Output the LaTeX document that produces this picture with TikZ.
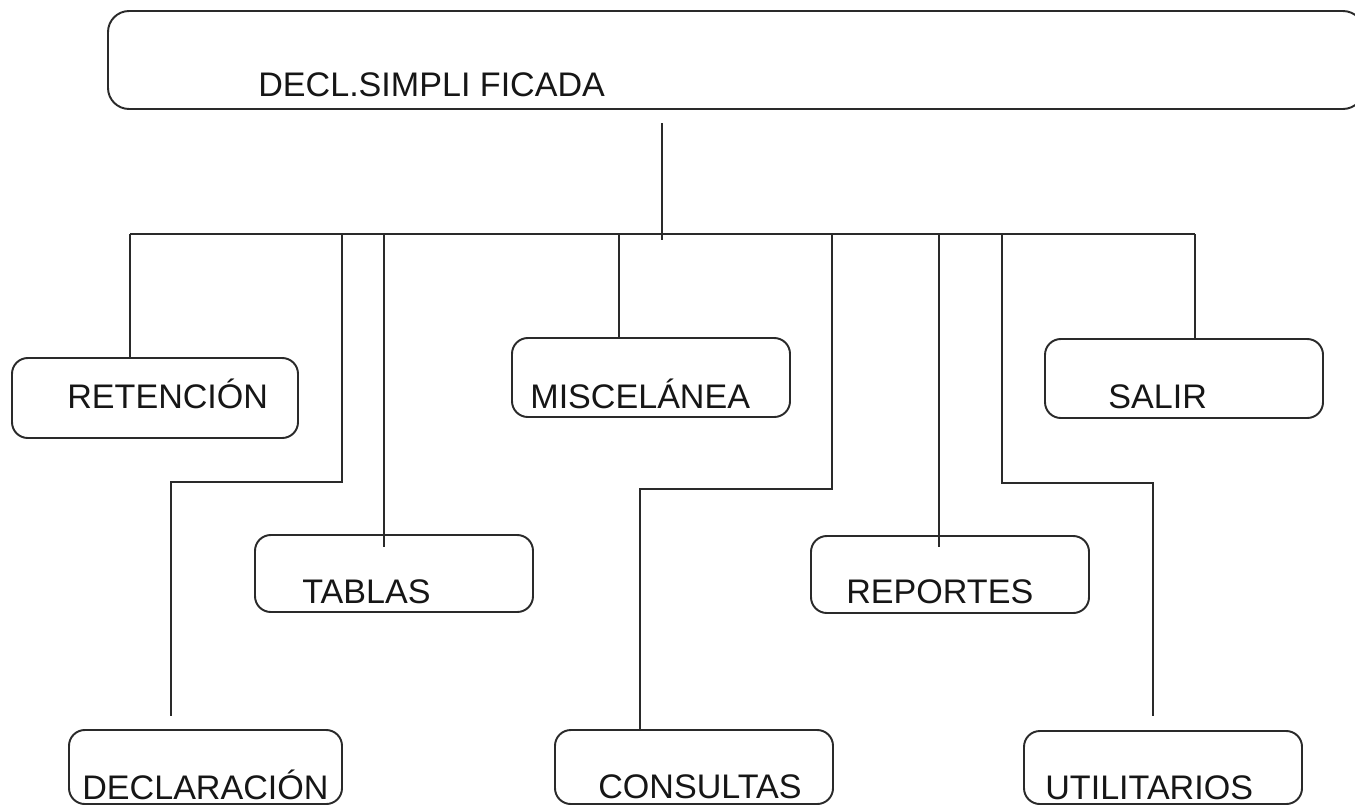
\documentclass[tikz,border=0pt]{standalone}
\usepackage{fontspec}
\setmainfont{Liberation Sans}
\usepackage{tikz}
\usetikzlibrary{positioning,fit,calc}
\definecolor{MenuInk}{HTML}{161616}
\definecolor{MenuLine}{HTML}{2A2A2A}
\tikzset{
  menulabel/.style={font=\fontsize{19.4}{23}\selectfont, text=MenuInk, inner sep=0pt, anchor=base west},
  menubox/.style={draw=MenuLine, line width=1.1pt, rounded corners=9pt, inner sep=0pt, fill=white},
  rootbox/.style={menubox, rounded corners=12pt},
  menulink/.style={draw=MenuLine, line width=1.1pt}
}
\begin{document}
\begin{tikzpicture}[x=0.02cm, y=-0.02cm]
\useasboundingbox (0,0) rectangle (1355,805);
% root
\node[rootbox, fit={(108,11) (1364,109)}] (root) {};
\node[menulabel] (root-t) at (258,96) {DECL.SIMPLI FICADA};
% first row
\node[menubox, fit={(12,358) (298,438)}] (ret) {};
\node[menulabel] (ret-t) at (67,408) {RETENCIÓN};
\node[menubox, fit={(512,338) (790,417)}] (mis) {};
\node[menulabel] (mis-t) at (530,408) {MISCELÁNEA};
\node[menubox, fit={(1045,339) (1323,418)}] (sal) {};
\node[menulabel] (sal-t) at (1108,408) {SALIR};
% second row
\node[menubox, fit={(255,535) (533,612)}] (tab) {};
\node[menulabel] (tab-t) at (302,603) {TABLAS};
\node[menubox, fit={(811,536) (1089,613)}] (rep) {};
\node[menulabel] (rep-t) at (846,603) {REPORTES};
% third row
\node[menubox, fit={(69,730) (342,804)}] (dec) {};
\node[menulabel] (dec-t) at (82,799) {DECLARACIÓN};
\node[menubox, fit={(555,730) (833,804)}] (con) {};
\node[menulabel] (con-t) at (598,798) {CONSULTAS};
\node[menubox, fit={(1024,731) (1302,804)}] (uti) {};
\node[menulabel] (uti-t) at (1045,799) {UTILITARIOS};
% junctions on the bar
\coordinate (stem) at (662,123);
\coordinate (hub) at (662,240);
\coordinate (jret) at (130,234);
\coordinate (jdec) at (342,234);
\coordinate (jtab) at (384,234);
\coordinate (jmis) at (619,234);
\coordinate (jcon) at (832,234);
\coordinate (jrep) at (939,234);
\coordinate (juti) at (1002,234);
\coordinate (jsal) at (1195,234);
\coordinate (kdec) at (171,482);
\coordinate (kcon) at (640,489);
\coordinate (kuti) at (1153,483);
% links
\draw[menulink] (stem) -- (hub);
\draw[menulink] (jret) -- (jsal);
\draw[menulink] (jret) -- (jret |- ret.north);
\draw[menulink] (jmis) -- (jmis |- mis.north);
\draw[menulink] (jsal) -- (jsal |- sal.north);
\draw[menulink] (jtab) -- ($(jtab |- tab.north)+(0,13)$);
\draw[menulink] (jrep) -- ($(jrep |- rep.north)+(0,12)$);
\draw[menulink] (jdec) |- (kdec) -- ($(kdec |- dec.north)+(0,-13)$);
\draw[menulink] (jcon) |- (kcon) -- (kcon |- con.north);
\draw[menulink] (juti) |- (kuti) -- ($(kuti |- uti.north)+(0,-14)$);
\end{tikzpicture}
\end{document}
